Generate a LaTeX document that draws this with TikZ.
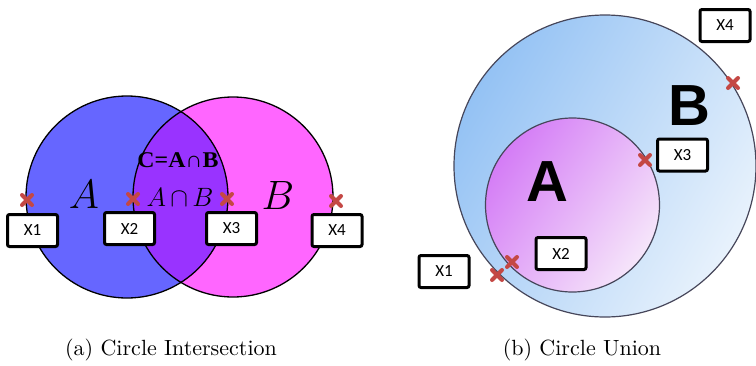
\RequirePackage{fix-cm}
\documentclass[tikz,border=0pt]{standalone}
\usepackage{fontspec}
\usetikzlibrary{calc}
\newfontfamily\boxfont{Carlito}
\newfontfamily\bigsans{Liberation Sans}
\newfontfamily\serifb[FakeStretch=1.06]{Liberation Serif}
\newfontfamily\capfont{lmroman10-regular.otf}
\definecolor{cA}{RGB}{102,102,255}
\definecolor{cB}{RGB}{255,102,255}
\definecolor{cAB}{RGB}{153,51,255}
\definecolor{crossred}{RGB}{196,72,68}
\definecolor{uB1}{RGB}{148,194,244}
\definecolor{uB2}{RGB}{232,242,252}
\definecolor{uA1}{RGB}{212,124,246}
\definecolor{uA2}{RGB}{246,230,250}
\definecolor{rim}{RGB}{70,70,90}
\tikzset{
  xbox/.style={draw=black, line width=3pt, rounded corners=2pt, fill=white,
    minimum width=50pt, minimum height=32pt, inner sep=0pt,
    font=\boxfont\fontsize{17}{19}\selectfont},
  xmark/.style={draw=crossred, line width=4pt, line cap=round},
  captiontext/.style={font=\capfont\fontsize{22}{26}\selectfont}
}
\newcommand{\xcross}[1]{\draw[xmark] ($(#1)+(-5,-5)$) -- ($(#1)+(5,5)$) ($(#1)+(-5,5)$) -- ($(#1)+(5,-5)$);}
\begin{document}
\begin{tikzpicture}[x=1pt,y=-1pt]
\useasboundingbox (0,0) rectangle (756,365);
% ---------- left: intersection ----------
\fill[cA] (127,197) circle (101);
\fill[cB] (233,197) circle (100);
\begin{scope}
  \clip (127,197) circle (101);
  \fill[cAB] (233,197) circle (100);
\end{scope}
\draw[black, line width=1.3pt] (127,197) circle (101);
\draw[black, line width=1.3pt] (233,197) circle (100);
\node[font=\serifb\bfseries\fontsize{22.5}{24}\selectfont] (cab) at (178,160) {C=A∩B};
\node[font=\fontsize{26.5}{30}\selectfont] (ab) at (180,197) {$A\mskip3mu{\cap}\mskip3mu B$};
\node[font=\fontsize{41}{45}\selectfont] (la) at (84,194) {$A$};
\node[font=\fontsize{41}{45}\selectfont] (lb) at (278,195) {$B$};
\coordinate (c1) at (27,200);
\coordinate (c2) at (133,199);
\coordinate (c3) at (227,199);
\coordinate (c4) at (336,201);
\xcross{c1}\xcross{c2}\xcross{c3}\xcross{c4}
\node[xbox] (b1) at (32.5,230.5) {X1};
\node[xbox] (b2) at (129.5,228.5) {X2};
\node[xbox] (b3) at (231.5,228.5) {X3};
\node[xbox] (b4) at (337,230.5) {X4};
\node[captiontext] (capa) at (171,350) {(a) Circle Intersection};
% ---------- right: union ----------
\shade[left color=uB1, right color=uB2, shading angle=60] (605,166) circle (151);
\draw[rim, line width=1.2pt] (605,166) circle (151);
\shade[left color=uA1, right color=uA2, shading angle=55] (572.5,205) circle (87);
\draw[rim, line width=1.2pt] (572.5,205) circle (87);
\node[font=\bigsans\bfseries\fontsize{58}{60}\selectfont] (ra) at (547,182) {A};
\node[font=\bigsans\bfseries\fontsize{58}{60}\selectfont] (rb) at (689,106) {B};
\coordinate (d1) at (497,275);
\coordinate (d2) at (512,262);
\coordinate (d3) at (645,160);
\coordinate (d4) at (733,83);
\xcross{d1}\xcross{d2}\xcross{d3}\xcross{d4}
\node[xbox] (e1) at (444,271.5) {X1};
\node[xbox] (e2) at (561,253.5) {X2};
\node[xbox] (e3) at (682.5,155) {X3};
\node[xbox] (e4) at (725,25.5) {X4};
\node[captiontext] (capb) at (582,350) {(b) Circle Union};
\end{tikzpicture}
\end{document}
